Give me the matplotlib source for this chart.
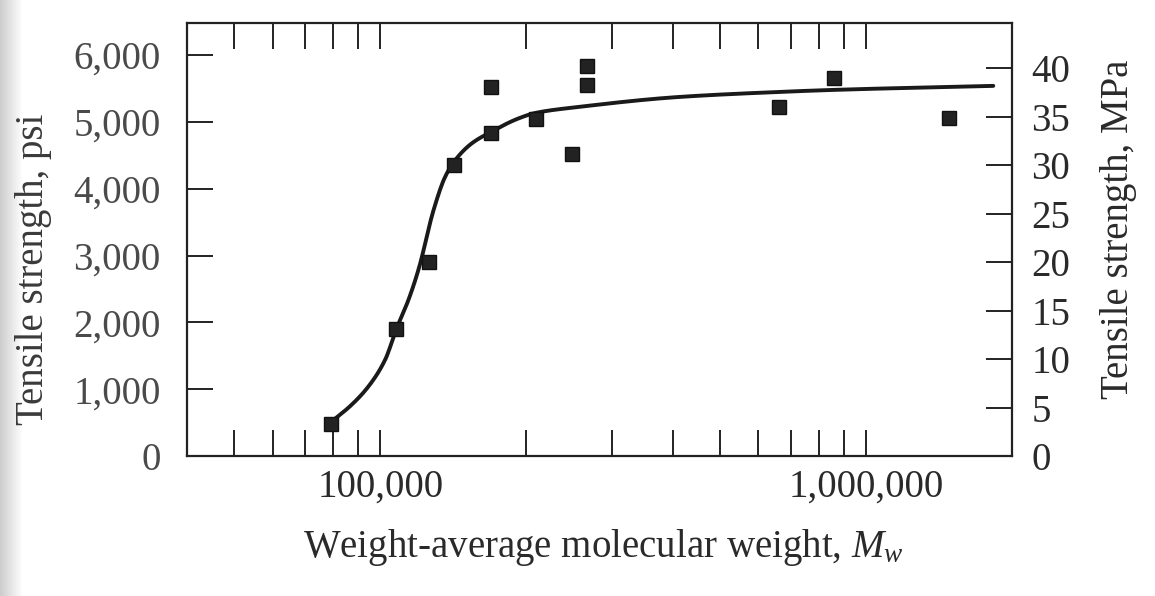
import numpy as np
import matplotlib
matplotlib.use("Agg")
import matplotlib.pyplot as plt

plt.rcParams['font.family'] = ['Liberation Serif', 'DejaVu Serif']
plt.rcParams['mathtext.fontset'] = 'custom'
plt.rcParams['mathtext.rm'] = 'Liberation Serif'
plt.rcParams['mathtext.it'] = 'Liberation Serif:italic'

# ---- data ----
mw_points = [79000, 108000, 126000, 142000, 169000, 169000, 209000, 248000,
             266000, 266000, 661000, 859000, 1486000]
psi_points = [480, 1900, 2900, 4360, 4840, 5520, 5040, 4520,
              5840, 5550, 5225, 5660, 5060]

curve_mw = [79300, 87200, 94500, 102300, 108100, 114300, 120000, 128800,
            136100, 142800, 154500, 168700, 193100, 209000, 257000, 414000,
            667000, 859000, 1830000]
curve_psi = [513, 763, 1038, 1437, 1911, 2335, 2800, 3683,
             4181, 4431, 4681, 4846, 5055, 5135, 5225, 5374,
             5449, 5479, 5539]

x_major = [100000, 1000000]
x_major_labels = ["100,000", "1,000,000"]
x_minor = [50000, 60000, 70000, 80000, 90000, 200000, 300000, 400000, 500000,
           600000, 700000, 800000, 900000]
psi_ticks = [0, 1000, 2000, 3000, 4000, 5000, 6000]
psi_labels = ["0", "1,000", "2,000", "3,000", "4,000", "5,000", "6,000"]
mpa_ticks = [0, 5, 10, 15, 20, 25, 30, 35, 40]
PSI_PER_MPA = 145.04


def pchip(x, y, xn):
    x = np.asarray(x, float); y = np.asarray(y, float)
    h = np.diff(x); d = np.diff(y) / h
    m = np.zeros_like(y)
    for k in range(1, len(x) - 1):
        if d[k - 1] * d[k] > 0:
            w1 = 2 * h[k] + h[k - 1]; w2 = h[k] + 2 * h[k - 1]
            m[k] = (w1 + w2) / (w1 / d[k - 1] + w2 / d[k])
    m[0] = d[0]; m[-1] = d[-1]
    idx = np.clip(np.searchsorted(x, xn) - 1, 0, len(x) - 2)
    t = (xn - x[idx]) / h[idx]
    h00 = 2 * t**3 - 3 * t**2 + 1; h10 = t**3 - 2 * t**2 + t
    h01 = -2 * t**3 + 3 * t**2; h11 = t**3 - t**2
    return h00 * y[idx] + h10 * h[idx] * m[idx] + h01 * y[idx + 1] + h11 * h[idx] * m[idx + 1]


fig = plt.figure(figsize=(11.55, 5.96), dpi=100)

# scanned-page shading at the left edge
bg = fig.add_axes([0, 0, 22 / 1155, 1], zorder=-5)
grad = np.linspace(0.80, 1.0, 64)[None, :]
bg.imshow(grad, cmap='gray', vmin=0, vmax=1, aspect='auto', extent=[0, 1, 0, 1])
bg.set_axis_off()

ax = fig.add_axes([187 / 1155, 1 - 456 / 596, 825 / 1155, 433 / 596])

lx = np.log10(curve_mw)
xs = np.linspace(lx[0], lx[-1], 500)
ax.plot(10 ** xs, pchip(lx, curve_psi, xs), color='#1a1a1a', lw=2.8,
        solid_capstyle='round', zorder=3)
ax.plot(mw_points, psi_points, linestyle='none', marker='s', ms=10.5,
        color='#222222', mec='#111111', zorder=4)

ax.set_xscale('log')
ax.set_xlim(40000, 2000000)
ax.set_ylim(0, 6480)
ax.xaxis.set_major_locator(matplotlib.ticker.FixedLocator(x_major))
ax.xaxis.set_major_formatter(matplotlib.ticker.FixedFormatter(x_major_labels))
ax.xaxis.set_minor_locator(matplotlib.ticker.FixedLocator(x_minor))
ax.xaxis.set_minor_formatter(matplotlib.ticker.NullFormatter())
ax.set_yticks(psi_ticks)
ax.set_yticklabels(psi_labels)

tc = '#2a2a2a'
ax.tick_params(axis='x', which='both', direction='in', length=19, width=1.4,
               top=True, bottom=True, labelsize=28, pad=9, colors='#222222',
               labelcolor=tc)
ax.tick_params(axis='y', which='both', direction='in', length=19, width=1.4,
               left=True, right=False, labelsize=28, pad=19, colors='#222222',
               labelcolor='#4a4a4a')
for s in ax.spines.values():
    s.set_linewidth(1.6)
    s.set_color('#222222')

ax2 = ax.twinx()
ax2.set_ylim(0, 6480 / PSI_PER_MPA)
ax2.set_yticks(mpa_ticks)
ax2.tick_params(axis='y', direction='in', length=19, width=1.4, labelsize=28,
                pad=14, colors='#222222', labelcolor=tc)
for s in ax2.spines.values():
    s.set_visible(False)

ax.set_xlabel("Weight-average molecular weight, $M_w$", fontsize=28, color=tc)
ax.xaxis.set_label_coords(0.505, -0.233)
ax.xaxis.label.set_va('baseline')
ax.set_ylabel("Tensile strength, psi", fontsize=28, color='#3a3a3a')
ax.yaxis.set_label_coords(-0.1855, 0.43)
ax.yaxis.label.set_va('center')
ax2.set_ylabel("Tensile strength, MPa", fontsize=28, color=tc)
ax2.yaxis.set_label_coords(1.1285, 0.523)
ax2.yaxis.label.set_va('center')

fig.savefig("out.png", dpi=100)
